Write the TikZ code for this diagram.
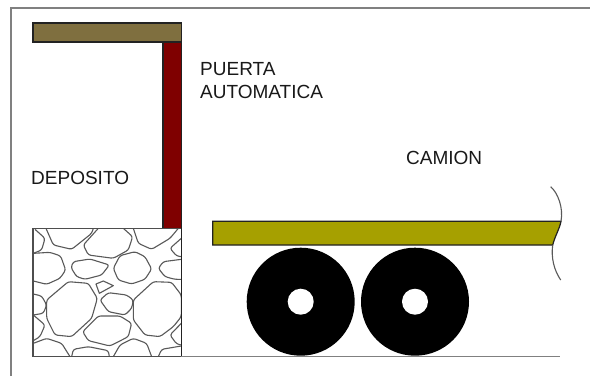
\documentclass[tikz,border=0pt]{standalone}
\usepackage{fontspec}
\setmainfont{Liberation Sans}
\definecolor{barcol}{HTML}{7F6F3F}
\definecolor{postcol}{HTML}{7F0000}
\definecolor{bedcol}{HTML}{A6A000}
\definecolor{linecol}{HTML}{222222}
\definecolor{framecol}{HTML}{808080}
\tikzset{
  label text/.style={anchor=base west,inner sep=0pt,font=\fontsize{19}{22}\selectfont,text=black!90},
  stone/.style={draw=linecol!75,line width=1.1pt,line join=round,rounded corners=2.5pt},
  solidpart/.style={draw=linecol,line width=1.2pt},
  wheelbody/.style={fill=black},
  wheelhole/.style={fill=white}
}
\begin{document}
\begin{tikzpicture}[x=1pt,y=-1pt]
\useasboundingbox (0,0) rectangle (590,376);
\fill[white] (0,0) rectangle (590,376);
\draw[framecol,line width=1.6pt] (11,376) -- (11,8) -- (590,8);
% bar and post
\draw[solidpart,fill=postcol] (163,42) rectangle (181.3,228.3);
\draw[solidpart,fill=barcol] (33,23) rectangle (181.5,42);
% stones
\begin{scope}[shift={(20,220)},x=0.3333pt,y=-0.3333pt]
\clip (40,25) rectangle (484,410);
\draw[stone] (45,28) -- (75,55) -- (65,90) -- (40,100);
\draw[stone] (78,25) -- (100,75) -- (155,88) -- (215,40) -- (220,25);
\draw[stone] (235,25) -- (190,75) -- (205,105) -- (280,115) -- (325,90) -- (338,50) -- (310,25);
\draw[stone] (340,25) -- (355,70) -- (395,88) -- (450,55) -- (475,25);
\draw[stone] (484,55) -- (450,85) -- (470,108) -- (484,110);
\draw[stone] (40,100) -- (90,97) -- (122,108) -- (137,150) -- (120,175) -- (80,193) -- (40,183);
\draw[stone] (160,125) -- (210,117) -- (268,135) -- (245,165) -- (195,178) -- (170,170) -- (153,143) -- cycle;
\draw[stone] (300,107) -- (345,95) -- (375,110) -- (395,147) -- (375,178) -- (335,192) -- (295,180) -- (280,145) -- cycle;
\draw[stone] (484,118) -- (430,125) -- (415,145) -- (435,170) -- (465,178) -- (484,178);
\draw[stone,rounded corners=0pt] (228,192) -- (250,183) -- (280,197) -- (238,220) -- cycle;
\draw[stone] (145,185) -- (205,190) -- (232,235) -- (215,295) -- (155,350) -- (105,345) -- (80,295) -- (80,240) -- cycle;
\draw[stone] (40,222) -- (65,228) -- (80,255) -- (70,280) -- (40,285);
\draw[stone] (40,285) -- (75,315) -- (60,350) -- (40,362);
\draw[stone] (265,218) -- (320,225) -- (340,240) -- (335,265) -- (315,285) -- (265,275) -- (240,240) -- cycle;
\draw[stone] (400,185) -- (455,187) -- (484,225) -- (484,290) -- (460,320) -- (420,350) -- (375,345) -- (340,300) -- (340,240) -- cycle;
\draw[stone] (235,288) -- (300,288) -- (335,310) -- (325,350) -- (270,378) -- (205,362) -- (188,335) -- cycle;
\draw[stone] (484,310) -- (450,345) -- (470,372) -- (484,375);
\draw[stone] (40,370) -- (80,355) -- (125,370) -- (150,410);
\draw[stone] (155,410) -- (160,388) -- (205,380) -- (265,392) -- (268,410);
\draw[stone] (280,410) -- (300,375) -- (340,355) -- (380,370) -- (395,410);
\draw[stone] (415,410) -- (425,388) -- (484,378);
\end{scope}
% deposit box and ground
\draw[solidpart,draw=linecol!80] (181.3,228.3) -- (33,228.3) -- (33,356.7) -- (181.3,356.7);
\draw[solidpart] (181.3,228.3) -- (181.3,356.7);
% truck
\draw[solidpart,fill=bedcol] (212.7,221.3) -- (561,221.3) .. controls (559.5,229) and (555,236) .. (552.7,245) -- (212.7,245) -- cycle;
\draw[draw=linecol!75,line width=1.1pt] (550.7,186.7) .. controls (558,193) and (563.5,208) .. (561,221.3);
\draw[draw=linecol!75,line width=1.1pt] (552.7,245) .. controls (551,258) and (554,270) .. (560.7,280);
% wheels
\fill[wheelbody] (300.7,301.7) circle (54);
\fill[wheelbody] (415,301.7) circle (54);
\fill[wheelhole] (300.7,301.7) circle (13);
\fill[wheelhole] (415,301.7) circle (13);
\draw[draw=framecol,line width=1.3pt] (181.3,356.7) -- (560,356.7);
% labels
\node[label text] (deposito) at (31,184) {DEPOSITO};
\node[label text] (puerta) at (200,75) {PUERTA};
\node[label text] (automatica) at (200,98) {AUTOMATICA};
\node[label text] (camion) at (406,164) {CAMION};
\end{tikzpicture}
\end{document}
